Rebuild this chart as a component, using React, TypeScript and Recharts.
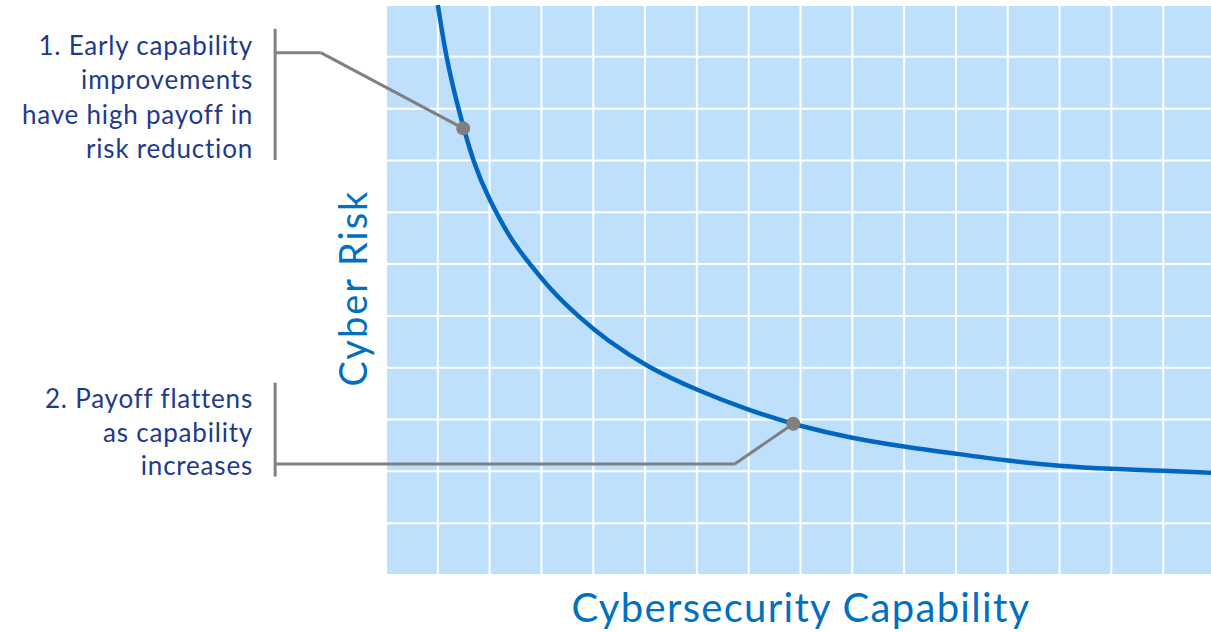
import React from "react";
import { LineChart, Line, XAxis, YAxis, CartesianGrid, ReferenceLine, ReferenceDot } from "recharts";

// capability (grid units) vs cyber risk (grid units)
const capability = [1, 1.17, 1.4, 1.69, 2, 2.4, 2.78, 3.2, 3.71, 4.3, 5.08, 6, 7, 8, 9, 10, 11, 12, 13, 14, 15, 16];
const risk = [11, 10, 9, 8, 7.25, 6.52, 6.0, 5.5, 5.0, 4.52, 4.02, 3.58, 3.19, 2.88, 2.65, 2.48, 2.34, 2.21, 2.11, 2.05, 2.01, 1.97];

const xTicks = [0, 1, 2, 3, 4, 5, 6, 7, 8, 9, 10, 11, 12, 13, 14, 15, 16];
const yTicks = [0, 1, 2, 3, 4, 5, 6, 7, 8, 9, 10, 11];

// annotated points on the curve
const markers = [
  { x: 1.49, y: 8.62 },
  { x: 7.86, y: 2.92 },
];

// leader lines (bracket, elbow, diagonal) in data units
const leaders = [
  [[-2.14, 10.54], [-2.14, 8.01]],
  [[-2.14, 10.08], [-1.26, 10.08]],
  [[-1.26, 10.08], [1.49, 8.62]],
  [[-2.14, 3.71], [-2.14, 1.9]],
  [[-2.14, 2.14], [6.73, 2.14]],
  [[6.73, 2.14], [7.86, 2.92]],
];

const note1 = ["1. Early capability", "improvements", "have high payoff in", "risk reduction"];
const note2 = ["2. Payoff flattens", "as capability", "increases"];

const data = capability.map((x, i) => ({ x, risk: risk[i] }));

const FONT = "Lato, 'Open Sans', sans-serif";
const NAVY = "#1f3a8a";
const BLUE = "#0070c0";
const GRAY = "#808080";

export default function App() {
  return (
    <div style={{ position: "absolute", left: 0, top: 0, width: 1211, height: 632, overflow: "hidden", background: "#fff" }}>
      <LineChart width={1216} height={632} data={data} margin={{ top: 5, right: 1, bottom: 57, left: 386 }}>
        <CartesianGrid stroke="#ffffff" strokeWidth={2} fill="#bfe0fd" fillOpacity={1} />
        <XAxis type="number" dataKey="x" domain={[0, 16]} ticks={xTicks} hide />
        <YAxis type="number" domain={[0, 11]} ticks={yTicks} hide />
        <Line
          type="natural"
          dataKey="risk"
          stroke="#0066c0"
          strokeWidth={4.5}
          dot={false}
          isAnimationActive={false}
        />
        {leaders.map((seg, i) => (
          <ReferenceLine
            key={`l-${i}`}
            segment={[{ x: seg[0][0], y: seg[0][1] }, { x: seg[1][0], y: seg[1][1] }]}
            stroke={GRAY}
            strokeWidth={3}
            ifOverflow="visible"
          />
        ))}
        {markers.map((m, i) => (
          <ReferenceDot key={`d-${i}`} x={m.x} y={m.y} r={7} fill={GRAY} stroke="none" ifOverflow="visible" />
        ))}
      </LineChart>
      <svg width={1211} height={632} style={{ position: "absolute", left: 0, top: 0, pointerEvents: "none" }}>
        <g fontFamily={FONT} fontWeight={400} fontSize={26} letterSpacing={0.8} fill={NAVY} textAnchor="end">
          {note1.map((t, i) => (
            <text key={t} x={253} y={55 + i * 34.4}>{t}</text>
          ))}
          {note2.map((t, i) => (
            <text key={t} x={253} y={408 + i * 33.5}>{t}</text>
          ))}
        </g>
        <text x={801} y={622} textAnchor="middle" fontFamily={FONT} fontWeight={400} fontSize={40} letterSpacing={1.3} fill={BLUE}>
          Cybersecurity Capability
        </text>
        <text
          x={367}
          y={288}
          transform="rotate(-90 367 288)"
          textAnchor="middle"
          fontFamily={FONT}
          fontWeight={400}
          fontSize={38}
          letterSpacing={2}
          fill={BLUE}
        >
          Cyber Risk
        </text>
      </svg>
    </div>
  );
}
